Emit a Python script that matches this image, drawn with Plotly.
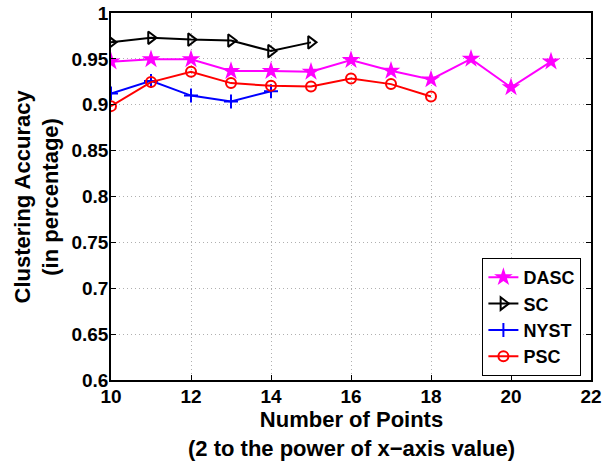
import plotly.graph_objects as go

x_dasc = [10, 11, 12, 13, 14, 15, 16, 17, 18, 19, 20, 21]
y_dasc = [0.947, 0.9495, 0.9495, 0.9367, 0.9367, 0.936, 0.9487, 0.937, 0.9276, 0.950, 0.919, 0.947]
x_sc = [10, 11, 12, 13, 14, 15]
y_sc = [0.968, 0.973, 0.971, 0.970, 0.9585, 0.968]
x_nyst = [10, 11, 12, 13, 14]
y_nyst = [0.9123, 0.926, 0.910, 0.9036, 0.9148]
x_psc = [10, 11, 12, 13, 14, 15, 16, 17, 18]
y_psc = [0.8985, 0.9247, 0.936, 0.9236, 0.9207, 0.920, 0.9287, 0.9225, 0.909]

x_ticks = [10, 12, 14, 16, 18, 20, 22]
y_ticks = [0.6, 0.65, 0.7, 0.75, 0.8, 0.85, 0.9, 0.95, 1.0]
y_tick_text = ["0.6", "0.65", "0.7", "0.75", "0.8", "0.85", "0.9", "0.95", "1"]

x_title = "Number of Points<br>(2 to the power of x\u2212axis value)"
y_title = "Clustering Accuracy<br>(in percentage)"

FONT = "Liberation Sans"

fig = go.Figure()
fig.add_trace(go.Scatter(x=x_dasc, y=y_dasc, name="DASC", mode="lines+markers",
                         line=dict(color="#ff00ff", width=2),
                         marker=dict(symbol="star", size=14, color="#ff00ff")))
fig.add_trace(go.Scatter(x=x_sc, y=y_sc, name="SC", mode="lines+markers",
                         line=dict(color="black", width=2),
                         marker=dict(symbol="triangle-right-open", size=11, color="black",
                                     line=dict(width=2))))
fig.add_trace(go.Scatter(x=x_nyst, y=y_nyst, name="NYST", mode="lines+markers",
                         line=dict(color="#0000ff", width=2),
                         marker=dict(symbol="cross-thin", size=10, color="#0000ff",
                                     line=dict(width=2, color="#0000ff"))))
fig.add_trace(go.Scatter(x=x_psc, y=y_psc, name="PSC", mode="lines+markers",
                         line=dict(color="#ff0000", width=2),
                         marker=dict(symbol="circle-open", size=10, color="#ff0000",
                                     line=dict(width=2))))

tick_font = dict(family=FONT, size=19, color="black", weight="bold")
title_font = dict(family=FONT, size=22, color="black", weight="bold")

axis_common = dict(
    showline=True, linecolor="black", linewidth=1.5, mirror="ticks",
    ticks="inside", ticklen=5, tickwidth=1, tickcolor="black",
    showgrid=True, gridcolor="#b0b0b0", gridwidth=1, griddash="1px,3px",
    zeroline=False, automargin=False, ticklabeloverflow="allow",
    tickfont=tick_font,
)

fig.update_xaxes(range=[10, 22], tickvals=x_ticks, ticktext=[str(v) for v in x_ticks],
                 ticklabelstandoff=-2, **axis_common)
fig.update_yaxes(range=[0.6, 1.0], tickvals=y_ticks, ticktext=y_tick_text,
                 ticklabelstandoff=-3, **axis_common)

fig.add_annotation(text=x_title, xref="paper", yref="paper", x=0.5, y=0,
                   xanchor="center", yanchor="middle", yshift=-54, showarrow=False,
                   font=title_font)
fig.add_annotation(text=y_title, xref="paper", yref="paper", x=0, y=0.5,
                   xanchor="center", yanchor="middle", xshift=-75, showarrow=False,
                   textangle=-90, font=title_font)

fig.update_layout(
    width=605, height=461,
    margin=dict(l=111, r=14, t=13, b=81),
    paper_bgcolor="white", plot_bgcolor="white",
    font=dict(family=FONT, color="black"),
    legend=dict(x=0.98, y=0.011, xanchor="right", yanchor="bottom",
                bgcolor="white", bordercolor="black", borderwidth=1,
                font=dict(family=FONT, size=18, color="black", weight="bold"),
                tracegroupgap=0, itemwidth=30),
    showlegend=True,
)

fig.write_html("out.html", config={"displayModeBar": False},
               post_script="document.body.style.margin='0';document.body.style.overflow='hidden';")
